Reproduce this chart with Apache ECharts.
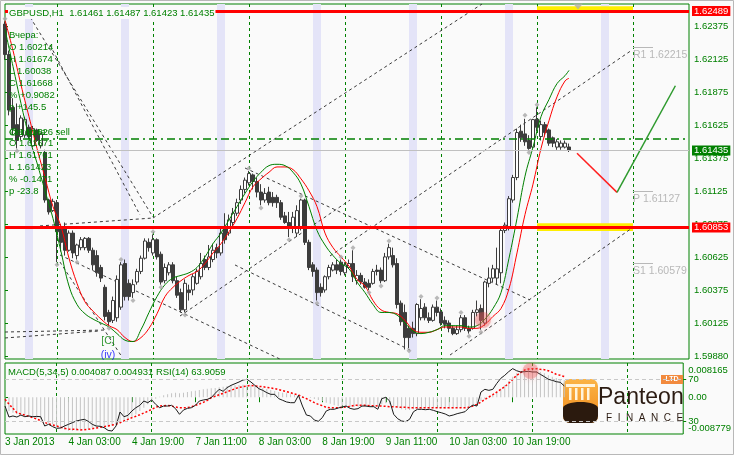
<!DOCTYPE html>
<html><head><meta charset="utf-8">
<script src="https://cdn.jsdelivr.net/npm/echarts@6/dist/echarts.min.js"></script>
<style>html,body{margin:0;padding:0;background:#fafafa;}#c{width:734px;height:455px;}</style>
</head><body><div id="c"></div>
<script>
const FONT = 'Liberation Sans';
const GREEN = '#008000';

// ---------- axes / categories ----------
const barCount = 172;
const tickLabels = ['3 Jan 2013','4 Jan 03:00','4 Jan 19:00','7 Jan 11:00','8 Jan 03:00','8 Jan 19:00','9 Jan 11:00','10 Jan 03:00','10 Jan 19:00'];
const tickBars = [0,16,32,48,64,80,96,112,128];
const daySeparatorBars = [13,37,61,85,109,133,157];
const sessionBands = [[5,7],[29,31],[53,55],[77,79],[101,103],[125,127],[149,151]];
const priceTicks = [1.59880,1.60125,1.60375,1.60625,1.60875,1.61125,1.61375,1.61625,1.61875,1.62125,1.62375];
const macdTicks = [-0.008779, 0, 0.008165];
const macdTickText = ['-0.008779','0.00','0.008165'];
const rsiTicks = [30, 70];

// ---------- candles: [open, high, low, close] ----------
const candles = [
[1.6239,1.6241,1.6212,1.6216],[1.6216,1.6219,1.6170,1.6174],[1.6176,1.6183,1.6155,1.6160],[1.6163,1.6179,1.6145,1.6151],
[1.6154,1.6170,1.6151,1.6168],[1.6155,1.6169,1.6153,1.6167],[1.6161,1.6163,1.6152,1.6154],[1.6147,1.6162,1.6146,1.6160],
[1.6159,1.6160,1.6150,1.6151],[1.6147,1.6157,1.6145,1.6156],[1.6142,1.6144,1.6104,1.6106],[1.6106,1.6107,1.6095,1.6097],
[1.6098,1.6107,1.6097,1.6105],[1.6104,1.6106,1.6059,1.6082],[1.6085,1.6087,1.6067,1.6074],[1.6086,1.6089,1.6064,1.6068],
[1.6068,1.6083,1.6067,1.6081],[1.6081,1.6083,1.6062,1.6066],[1.6064,1.6073,1.6061,1.6072],[1.6070,1.6078,1.6068,1.6076],
[1.6070,1.6078,1.6068,1.6077],[1.6077,1.6078,1.6066,1.6068],[1.6068,1.6070,1.6053,1.6057],[1.6064,1.6068,1.6048,1.6051],
[1.6055,1.6057,1.6044,1.6047],[1.6040,1.6042,1.6015,1.6018],[1.6021,1.6023,1.6011,1.6014],[1.6015,1.6033,1.6013,1.6030],
[1.6017,1.6049,1.6014,1.6046],[1.6025,1.6059,1.6023,1.6057],[1.6058,1.6061,1.6030,1.6033],[1.6043,1.6046,1.6030,1.6033],
[1.6036,1.6046,1.6032,1.6042],[1.6044,1.6054,1.6042,1.6052],[1.6052,1.6064,1.6050,1.6062],[1.6062,1.6077,1.6061,1.6075],
[1.6074,1.6077,1.6067,1.6070],[1.6066,1.6080,1.6064,1.6076],[1.6076,1.6077,1.6061,1.6063],[1.6065,1.6067,1.6042,1.6044],
[1.6045,1.6058,1.6043,1.6055],[1.6051,1.6059,1.6049,1.6057],[1.6057,1.6059,1.6043,1.6045],[1.6045,1.6048,1.6032,1.6034],
[1.6036,1.6039,1.6021,1.6023],[1.6023,1.6046,1.6021,1.6043],[1.6038,1.6042,1.6030,1.6036],[1.6038,1.6050,1.6034,1.6048],
[1.6043,1.6054,1.6042,1.6052],[1.6048,1.6066,1.6046,1.6058],[1.6061,1.6064,1.6053,1.6055],[1.6055,1.6072,1.6053,1.6063],
[1.6061,1.6073,1.6059,1.6068],[1.6070,1.6073,1.6062,1.6066],[1.6066,1.6085,1.6064,1.6081],[1.6085,1.6096,1.6073,1.6076],
[1.6081,1.6095,1.6079,1.6091],[1.6089,1.6100,1.6086,1.6096],[1.6096,1.6107,1.6094,1.6104],[1.6106,1.6117,1.6103,1.6114],
[1.6114,1.6123,1.6111,1.6121],[1.6119,1.6128,1.6117,1.6126],[1.6125,1.6126,1.6114,1.6120],[1.6120,1.6123,1.6108,1.6112],
[1.6112,1.6118,1.6102,1.6106],[1.6106,1.6115,1.6104,1.6111],[1.6112,1.6116,1.6102,1.6104],[1.6108,1.6112,1.6101,1.6104],
[1.6108,1.6110,1.6100,1.6104],[1.6104,1.6106,1.6091,1.6093],[1.6094,1.6097,1.6088,1.6089],[1.6089,1.6097,1.6078,1.6086],
[1.6086,1.6097,1.6081,1.6093],[1.6081,1.6102,1.6078,1.6098],[1.6086,1.6107,1.6083,1.6106],[1.6106,1.6107,1.6072,1.6074],
[1.6074,1.6076,1.6053,1.6055],[1.6057,1.6059,1.6048,1.6052],[1.6053,1.6055,1.6030,1.6036],[1.6040,1.6043,1.6033,1.6036],
[1.6038,1.6049,1.6036,1.6048],[1.6048,1.6057,1.6046,1.6055],[1.6053,1.6059,1.6052,1.6057],[1.6057,1.6061,1.6050,1.6053],
[1.6059,1.6061,1.6049,1.6052],[1.6051,1.6059,1.6049,1.6057],[1.6055,1.6061,1.6054,1.6058],[1.6058,1.6068,1.6044,1.6048],
[1.6045,1.6053,1.6042,1.6049],[1.6049,1.6051,1.6042,1.6044],[1.6044,1.6047,1.6039,1.6040],[1.6043,1.6046,1.6038,1.6040],
[1.6043,1.6054,1.6042,1.6052],[1.6053,1.6057,1.6049,1.6052],[1.6053,1.6055,1.6043,1.6045],[1.6045,1.6066,1.6044,1.6063],
[1.6063,1.6073,1.6061,1.6070],[1.6064,1.6070,1.6055,1.6057],[1.6058,1.6062,1.6024,1.6027],[1.6028,1.6030,1.6011,1.6014],
[1.6021,1.6027,1.5993,1.6002],[1.6009,1.6011,1.5994,1.6002],[1.6009,1.6014,1.6002,1.6005],[1.6005,1.6028,1.6003,1.6027],
[1.6017,1.6031,1.6015,1.6024],[1.6025,1.6028,1.6015,1.6017],[1.6017,1.6021,1.6013,1.6015],[1.6015,1.6027,1.6014,1.6025],
[1.6025,1.6030,1.6018,1.6021],[1.60214,1.6024,1.6011,1.6013],[1.6015,1.6018,1.6009,1.6012],[1.6013,1.6015,1.6006,1.6009],
[1.6009,1.6011,1.60038,1.6005],[1.6005,1.6011,1.6004,1.6008],[1.6008,1.6019,1.6006,1.6017],[1.6017,1.6019,1.6007,1.6009],
[1.6009,1.6011,1.6005,1.6007],[1.6009,1.6023,1.6008,1.6021],[1.6021,1.6030,1.6018,1.6023],[1.6024,1.6027,1.6008,1.6015],
[1.6013,1.6045,1.6011,1.6044],[1.6043,1.6055,1.6040,1.6047],[1.6047,1.6057,1.6044,1.6054],[1.6047,1.6070,1.6042,1.6054],
[1.6051,1.6085,1.6043,1.6083],[1.6083,1.6089,1.6081,1.6087],[1.6086,1.6109,1.6083,1.6107],[1.6106,1.6125,1.6104,1.6123],
[1.6123,1.6160,1.6121,1.6157],[1.6158,1.6163,1.6150,1.6153],[1.6156,1.61674,1.6147,1.6150],[1.6151,1.6155,1.6144,1.6145],
[1.6146,1.61674,1.6145,1.61668],[1.61671,1.61761,1.6158,1.6161],[1.6154,1.6166,1.6151,1.6163],[1.6163,1.6165,1.6154,1.6157],
[1.6159,1.6160,1.6147,1.6149],[1.6153,1.6154,1.6146,1.6149],[1.6146,1.6152,1.6144,1.6150],[1.6146,1.6151,1.6144,1.6149],
[1.6146,1.6151,1.6145,1.6149],[1.61461,1.61487,1.61423,1.61435]
];

// ---------- smoothed lines (read every 2nd bar, last bar 141) ----------
const maGreen = [1.6235,1.6207,1.6179,1.6154,1.6134,1.6113,1.6092,1.6067,1.6041,1.6027,1.6020,1.6016,1.6013,1.6010,1.6005,1.6000,1.5999,1.6008,1.6021,1.6033,1.6042,1.6047,1.6049,1.6051,1.6055,1.6063,1.6073,1.6081,1.6091,1.6101,1.6111,1.6120,1.6127,1.6132,1.6133,1.6132,1.6127,1.6118,1.6101,1.6083,1.6072,1.6064,1.6058,1.6054,1.6044,1.6036,1.6027,1.6021,1.6021,1.6019,1.6013,1.6007,1.6005,1.6006,1.6008,1.6011,1.6011,1.6011,1.6010,1.6011,1.6016,1.6024,1.6036,1.6062,1.6092,1.6124,1.6146,1.6169,1.6182,1.6194,1.6200,1.6204];
const maRed = [1.6242,1.6219,1.6193,1.6169,1.6145,1.6123,1.6101,1.6086,1.6062,1.6043,1.6029,1.6022,1.6016,1.6011,1.6008,1.6002,1.5999,1.6002,1.6009,1.6020,1.6033,1.6040,1.6045,1.6049,1.6052,1.6058,1.6066,1.6073,1.6082,1.6092,1.6104,1.6116,1.6122,1.6127,1.6131,1.6131,1.6129,1.6122,1.6113,1.6101,1.6081,1.6070,1.6063,1.6056,1.6046,1.6041,1.6030,1.6023,1.6021,1.6020,1.6015,1.6008,1.6006,1.6006,1.6008,1.6010,1.6010,1.6010,1.6009,1.6009,1.6012,1.6018,1.6024,1.6039,1.6066,1.6095,1.6118,1.6145,1.6166,1.6184,1.6196,1.6198];
const maBars = maGreen.map((_, k) => k < 71 ? 2 * k : 141);

// ---------- levels ----------
const redLevels = [1.62489, 1.60853];
const yellowZones = [[1.62525, 1.62480], [1.60884, 1.60825]];
const zoneBars = [133, 157];
const sellLevel = 1.61526;
const bidPrice = 1.61435;
const pivotNames = ['R1', 'P', 'S1'];
const pivotValues = [1.62215, 1.61127, 1.60579];
const pivotBars = [157, 162];
const forecastDown = [[143, 1.61413], [153, 1.61118]];
const forecastUp = [[153, 1.61118], [167.6, 1.61924]];
const topMarker = [[143.25, 1.62523]];

// ---------- trend lines [bar1, price1, bar2, price2] ----------
const trendLines = [
 [5.5,1.62481,37,1.60931],[11.25,1.62232,33.75,1.60947],[8.75,1.60864,37,1.60924],
 [37,1.60924,119.25,1.62542],[43.75,1.60183,86.25,1.61060],[81.25,1.60637,156.75,1.62194],
 [111.25,1.59888,156.75,1.60848],[13.75,1.60644,69.25,1.59850],[60,1.61302,131.25,1.60304],
 [57.5,1.60569,101.25,1.59926],[0,1.60062,25,1.60077],[0,1.60017,23.75,1.60070],[13.75,1.60591,29.25,1.59873]
];
const fractals = [[0,1.6243],[3,1.6143],[13,1.6057],[18,1.6059],[26,1.6009],[29,1.6061],[32,1.6030],[37,1.6082],[39,1.6040],[45,1.6019],[61,1.6130],[64,1.6100],[71,1.6076],[74,1.6109],[78,1.6028],[84,1.6063],[87,1.6070],[91,1.6036],[94,1.6041],[96,1.6075],[101,1.5992],[104,1.6033],[108,1.6032],[114,1.6021],[116,1.6003],[119,1.6006],[130,1.6170],[131,1.6142],[133,1.6178]];
const waveLabels = [[25.75,1.59994,'[C]',GREEN],[25.75,1.59888,'(iv)','#0000ff']];
const highlightMain = [[119.5,1.60153]];
const highlightMacd = [[132.5,0.00625]];

// ---------- oscillators ----------
const macdMain = [-0.00289,-0.00329,-0.00369,-0.00409,-0.00433,-0.00449,-0.00464,-0.00488,-0.00504,-0.00528,-0.00568,-0.00608,-0.00647,-0.00703,-0.00743,-0.00775,-0.00798,-0.00806,-0.00798,-0.00783,-0.00767,-0.00751,-0.00735,-0.00719,-0.00703,-0.00703,-0.00703,-0.00687,-0.00647,-0.00608,-0.00568,-0.00528,-0.00464,-0.00409,-0.00329,-0.00250,-0.00170,-0.00091,-0.00035,0.00013,0.00045,0.00068,0.00092,0.00108,0.00092,0.00108,0.00124,0.00140,0.00156,0.00172,0.00188,0.00204,0.00212,0.00220,0.00235,0.00251,0.00267,0.00283,0.00283,0.00291,0.00299,0.00299,0.00283,0.00267,0.00243,0.00220,0.00196,0.00172,0.00148,0.00124,0.00108,0.00092,0.00068,0.00053,0.00045,0.00029,0.00005,-0.00019,-0.00043,-0.00067,-0.00091,-0.00130,-0.00154,-0.00194,-0.00210,-0.00226,-0.00234,-0.00234,-0.00234,-0.00226,-0.00226,-0.00226,-0.00218,-0.00218,-0.00210,-0.00170,-0.00146,-0.00170,-0.00210,-0.00250,-0.00289,-0.00305,-0.00305,-0.00289,-0.00274,-0.00274,-0.00266,-0.00266,-0.00266,-0.00266,-0.00266,-0.00274,-0.00274,-0.00274,-0.00266,-0.00258,-0.00250,-0.00226,-0.00194,-0.00170,-0.00091,-0.00051,-0.00011,0.00045,0.00124,0.00204,0.00283,0.00387,0.00490,0.00569,0.00625,0.00649,0.00665,0.00649,0.00625,0.00601,0.00569,0.00522,0.00490,0.00458,0.00426,0.004087];
const macdSignal = [-0.00051,-0.00162,-0.00266,-0.00369,-0.00401,-0.00425,-0.00456,-0.00488,-0.00520,-0.00560,-0.00600,-0.00639,-0.00663,-0.00687,-0.00719,-0.00743,-0.00759,-0.00767,-0.00767,-0.00783,-0.00775,-0.00767,-0.00751,-0.00735,-0.00719,-0.00703,-0.00687,-0.00663,-0.00647,-0.00608,-0.00568,-0.00528,-0.00488,-0.00456,-0.00417,-0.00377,-0.00337,-0.00289,-0.00242,-0.00210,-0.00202,-0.00194,-0.00210,-0.00234,-0.00250,-0.00250,-0.00250,-0.00226,-0.00194,-0.00162,-0.00122,-0.00075,-0.00011,0.00021,0.00060,0.00092,0.00132,0.00164,0.00204,0.00235,0.00251,0.00267,0.00283,0.00267,0.00259,0.00251,0.00235,0.00220,0.00204,0.00180,0.00156,0.00132,0.00108,0.00076,0.00053,0.00005,-0.00035,-0.00083,-0.00130,-0.00170,-0.00202,-0.00242,-0.00250,-0.00250,-0.00250,-0.00242,-0.00234,-0.00218,-0.00194,-0.00194,-0.00194,-0.00194,-0.00202,-0.00202,-0.00210,-0.00210,-0.00218,-0.00226,-0.00226,-0.00234,-0.00242,-0.00242,-0.00250,-0.00250,-0.00250,-0.00250,-0.00250,-0.00250,-0.00250,-0.00250,-0.00250,-0.00250,-0.00250,-0.00250,-0.00250,-0.00250,-0.00250,-0.00242,-0.00210,-0.00170,-0.00115,-0.00051,0.00005,0.00060,0.00124,0.00188,0.00251,0.00331,0.00426,0.00522,0.00585,0.00649,0.00673,0.00681,0.00681,0.00665,0.00657,0.00633,0.00593,0.00546,0.00522,0.004931];
const rsi = [44.6,34.1,35.1,34.1,36.0,34.4,35.1,34.4,34.7,34.4,25.5,27.1,24.9,23.3,23.6,25.5,27.1,28.7,30.3,31.2,31.9,30.0,27.1,25.5,25.2,23.9,21.3,20.7,25.5,38.9,34.4,35.7,39.9,43.0,45.3,49.4,47.8,50.4,46.2,43.0,44.6,44.6,45.3,42.1,36.7,40.8,42.4,43.0,45.3,49.4,50.4,51.0,52.6,56.8,60.6,58.7,62.2,64.4,66.0,67.6,69.5,70.2,67.6,64.4,61.2,59.6,57.4,55.8,55.8,51.7,50.1,48.5,47.8,47.8,54.9,44.6,36.0,35.1,31.2,30.0,33.5,39.9,41.5,41.5,42.7,43.7,44.6,42.4,41.5,42.1,44.6,44.6,44.0,44.0,41.5,51.7,52.9,49.4,36.7,32.5,30.3,29.7,31.9,39.2,41.5,41.5,41.1,41.5,40.5,39.2,38.2,37.0,35.1,36.0,37.3,38.2,39.2,43.0,45.6,44.6,58.0,60.6,59.6,60.6,66.3,71.1,74.0,77.5,80.4,78.4,77.2,77.5,77.8,77.2,77.2,74.9,72.7,70.2,69.2,67.9,67.3,63.9059];

// ---------- texts ----------
const symbolName = 'GBPUSD,H1';
const prevDayInfo = ['Вчера:','O 1.60214','H 1.61674','L 1.60038','C 1.61668','% +0.9082','p +145.5'];
const todayHeader = ['Сегодня:','@1.61526 sell'];
const todayInfo = ['O 1.61671','H 1.61761','L 1.61423','% -0.1471','p -23.8'];

// ---------- build ----------
const cats = [];
for (let i = 0; i < barCount; i++) cats.push('');
tickBars.forEach((b, k) => { cats[b] = tickLabels[k]; });
const tickSet = new Set(tickBars);
const daySet = new Set(daySeparatorBars);
const last = candles[candles.length - 1];
const titleText = symbolName + '  ' + last.map(v => v.toFixed(5)).join(' ');
const oscTitle = 'MACD(5,34,5) ' + macdMain[macdMain.length-1].toFixed(6) + ' ' + macdSignal[macdSignal.length-1].toFixed(6) + ' RSI(14) ' + rsi[rsi.length-1].toFixed(4);

const fnt = (s) => s + 'px "' + FONT + '"';
const sepLine = { show: true, interval: (i) => daySet.has(i), lineStyle: { color: GREEN, type: [3, 3], width: 1 } };

const markLineData = [];
redLevels.forEach(v => markLineData.push({ yAxis: v, name: v.toFixed(5),
  lineStyle: { color: '#ff0000', width: 3, type: 'solid' },
  label: { show: true, position: 'end', distance: 3, formatter: '{b}', color: '#ffffff', backgroundColor: '#ff0000', padding: [0, 2, 0, 2], fontSize: 9.5, lineHeight: 10, fontFamily: FONT } }));
markLineData.push({ yAxis: sellLevel, name: '', lineStyle: { color: GREEN, width: 1.5, type: [8, 4, 2, 4] }, label: { show: false } });
markLineData.push({ yAxis: bidPrice, name: bidPrice.toFixed(5), lineStyle: { color: '#c0c0c0', width: 1, type: 'solid' },
  label: { show: true, position: 'end', distance: 3, formatter: '{b}', color: '#ffffff', backgroundColor: GREEN, padding: [0, 2, 0, 2], fontSize: 9.5, lineHeight: 10, fontFamily: FONT } });
pivotValues.forEach((v, k) => markLineData.push([
  { coord: [pivotBars[0], v], name: pivotNames[k] + ' ' + v.toFixed(5), lineStyle: { color: '#b8b8b8', width: 1, type: 'solid' },
    label: { show: true, position: 'insideStartBottom', distance: [0, 2], formatter: '{b}', color: '#b8b8b8', fontSize: 10.5, fontFamily: FONT } },
  { coord: [pivotBars[1], v] }
]));

const markAreaData = [];
sessionBands.forEach(b => markAreaData.push([{ xAxis: b[0], itemStyle: { color: '#e4e4f8' } }, { xAxis: b[1] }]));
yellowZones.forEach(z => markAreaData.push([{ xAxis: zoneBars[0], yAxis: z[0], itemStyle: { color: '#ffee00' } }, { xAxis: zoneBars[1], yAxis: z[1] }]));

const option = {
  animation: false,
  backgroundColor: '#fafafa',
  textStyle: { fontFamily: FONT },
  grid: [
    { left: 5, top: 4, width: 684, height: 355, show: true, borderColor: GREEN, borderWidth: 1, backgroundColor: '#fafafa' },
    { left: 5, top: 363, width: 684, height: 71, show: true, borderColor: GREEN, borderWidth: 1, backgroundColor: '#fafafa' }
  ],
  xAxis: [
    { type: 'category', gridIndex: 0, data: cats, boundaryGap: false, axisLine: { show: false }, axisTick: { show: false }, axisLabel: { show: false }, splitLine: sepLine },
    { type: 'value', gridIndex: 0, min: 0, max: barCount - 1, show: false },
    { type: 'category', gridIndex: 1, data: cats, boundaryGap: false, axisLine: { show: false },
      axisTick: { show: true, interval: (i) => tickSet.has(i), length: 5, lineStyle: { color: GREEN } },
      axisLabel: { interval: 0, color: GREEN, fontSize: 10, fontFamily: FONT, align: 'left', margin: 3 },
      splitLine: sepLine },
    { type: 'value', gridIndex: 1, min: 0, max: barCount - 1, show: false }
  ],
  yAxis: [
    { type: 'value', gridIndex: 0, position: 'right', min: 1.59858, max: 1.62542, scale: true,
      axisLine: { show: false }, splitLine: { show: false },
      axisTick: { show: true, customValues: priceTicks, length: 3, lineStyle: { color: GREEN } },
      axisLabel: { customValues: priceTicks, formatter: (v) => v.toFixed(5), color: GREEN, fontSize: 9.5, fontFamily: FONT, margin: 5 } },
    { type: 'value', gridIndex: 1, position: 'right', min: -0.008779, max: 0.008165,
      axisLine: { show: false }, splitLine: { show: false },
      axisTick: { show: true, customValues: [0], length: 3, lineStyle: { color: GREEN } },
      axisLabel: { customValues: macdTicks, color: GREEN, fontSize: 9.5, fontFamily: FONT, margin: 5,
        formatter: function (v) {
          let k = 0; for (let i = 0; i < macdTicks.length; i++) if (Math.abs(macdTicks[i] - v) < 1e-9) k = i;
          const s = macdTickText[k];
          if (k === 2) return '{t|' + s + '}';
          if (k === 0) return '{b|' + s + '}';
          return s;
        },
        rich: { t: { padding: [14, 0, 0, 0], color: GREEN, fontSize: 9.5, fontFamily: FONT }, b: { padding: [0, 0, 12, 0], color: GREEN, fontSize: 9.5, fontFamily: FONT } } } },
    { type: 'value', gridIndex: 1, position: 'right', min: 17.85, max: 85.79,
      axisLine: { show: false }, splitLine: { show: false },
      axisTick: { show: true, customValues: rsiTicks, length: 3, lineStyle: { color: GREEN } },
      axisLabel: { customValues: rsiTicks, formatter: (v) => String(Math.round(v)), color: GREEN, fontSize: 9.5, fontFamily: FONT, margin: 5 } }
  ],
  series: [
    { type: 'candlestick', xAxisIndex: 0, yAxisIndex: 0, barWidth: 3, z: 3,
      data: candles.map(c => [c[0], c[3], c[2], c[1]]),
      itemStyle: { color: '#ffffff', color0: '#3c3c3c', borderColor: '#3c3c3c', borderColor0: '#3c3c3c', borderWidth: 1 },
      markArea: { silent: true, data: markAreaData },
      markLine: { silent: true, precision: 6, symbol: ['none', 'none'], data: markLineData } },
    { type: 'lines', coordinateSystem: 'cartesian2d', xAxisIndex: 1, yAxisIndex: 0, silent: true, z: 2,
      lineStyle: { color: '#3a3a3a', width: 1, type: [3, 3], opacity: 1, curveness: 0 },
      data: trendLines.map(t => ({ coords: [[t[0], t[1]], [t[2], t[3]]] })) },
    { type: 'line', xAxisIndex: 1, yAxisIndex: 0, data: maBars.map((b, k) => [b, maRed[k]]), smooth: 0.4, showSymbol: false, lineStyle: { color: '#ff0000', width: 1 }, z: 4 },
    { type: 'line', xAxisIndex: 1, yAxisIndex: 0, data: maBars.map((b, k) => [b, maGreen[k]]), smooth: 0.4, showSymbol: false, lineStyle: { color: '#008000', width: 1 }, z: 4 },
    { type: 'line', xAxisIndex: 1, yAxisIndex: 0, data: forecastDown, showSymbol: false, lineStyle: { color: '#ff2020', width: 1.5 }, z: 4 },
    { type: 'line', xAxisIndex: 1, yAxisIndex: 0, data: forecastUp, showSymbol: false, lineStyle: { color: '#2e9a2e', width: 1.5 }, z: 4 },
    { type: 'scatter', xAxisIndex: 1, yAxisIndex: 0, data: fractals, symbol: 'diamond', symbolSize: 5, itemStyle: { color: '#a8a8a8' }, z: 5 },
    { type: 'scatter', xAxisIndex: 1, yAxisIndex: 0, data: topMarker, symbol: 'triangle', symbolRotate: 180, symbolSize: [10, 6], itemStyle: { color: '#b0b0a8' }, z: 5 },
    { type: 'scatter', xAxisIndex: 1, yAxisIndex: 0, data: highlightMain, symbolSize: 16, itemStyle: { color: 'rgba(235,90,90,0.45)', shadowBlur: 6, shadowColor: 'rgba(235,90,90,0.6)' }, z: 6 },
    { type: 'scatter', xAxisIndex: 1, yAxisIndex: 0, symbolSize: 1, itemStyle: { color: 'rgba(0,0,0,0)' }, z: 6,
      data: waveLabels.map(w => ({ value: [w[0], w[1]], label: { show: true, position: 'inside', formatter: w[2], color: w[3], fontSize: 10.5, fontFamily: FONT } })) },
    { type: 'bar', xAxisIndex: 2, yAxisIndex: 1, data: macdMain, barWidth: 1, itemStyle: { color: '#c4c4c4' }, z: 2 },
    { type: 'line', xAxisIndex: 2, yAxisIndex: 1, data: macdSignal, showSymbol: false, lineStyle: { color: '#ff0000', width: 1.5, type: [2, 2] }, z: 3 },
    { type: 'line', xAxisIndex: 2, yAxisIndex: 2, data: rsi, showSymbol: false, lineStyle: { color: '#1a1a1a', width: 1 }, z: 4,
      markLine: { silent: true, symbol: ['none', 'none'], label: { show: false }, lineStyle: { color: '#c8c8c8', type: [4, 3], width: 1 }, data: rsiTicks.map(v => ({ yAxis: v })) } },
    { type: 'scatter', xAxisIndex: 3, yAxisIndex: 1, data: highlightMacd, symbolSize: 16, itemStyle: { color: 'rgba(235,90,90,0.45)', shadowBlur: 6, shadowColor: 'rgba(235,90,90,0.6)' }, z: 6 }
  ],
  graphic: [
    { type: 'rect', silent: true, z: 100, shape: { x: 0.5, y: 0.5, width: 733, height: 454 }, style: { fill: 'none', stroke: '#b8b8b8', lineWidth: 1 } },
    { type: 'text', silent: true, z: 100, x: 8, y: 13, style: { text: titleText, fill: GREEN, font: fnt(9.5), verticalAlign: 'middle', backgroundColor: '#fafafa', padding: [1, 1] } },
    ...prevDayInfo.map((t, k) => ({ type: 'text', silent: true, z: 100, x: 9, y: 35 + 12 * k, style: { text: t, fill: GREEN, font: fnt(9.5), verticalAlign: 'middle' } })),
    ...todayHeader.map((t) => ({ type: 'text', silent: true, z: 100, x: 9, y: 132, style: { text: t, fill: GREEN, font: fnt(9.5), verticalAlign: 'middle' } })),
    ...todayInfo.map((t, k) => ({ type: 'text', silent: true, z: 100, x: 9, y: 143 + 12 * k, style: { text: t, fill: GREEN, font: fnt(9.5), verticalAlign: 'middle' } })),
    { type: 'text', silent: true, z: 100, x: 8, y: 372, style: { text: oscTitle, fill: GREEN, font: fnt(9.5), verticalAlign: 'middle' } },
    // logo
    { type: 'group', silent: true, z: 100, children: [
      { type: 'rect', shape: { x: 563, y: 379, width: 35, height: 44, r: 7 }, style: { fill: new echarts.graphic.LinearGradient(0, 0, 0, 1, [{ offset: 0, color: '#fbb447' }, { offset: 1, color: '#f08a1c' }]) } },
      { type: 'rect', shape: { x: 566, y: 384, width: 29, height: 3 }, style: { fill: '#fff4dc' } },
      { type: 'rect', shape: { x: 569, y: 388, width: 2.5, height: 12 }, style: { fill: '#fff4dc' } },
      { type: 'rect', shape: { x: 575, y: 388, width: 2.5, height: 12 }, style: { fill: '#fff4dc' } },
      { type: 'rect', shape: { x: 581, y: 388, width: 2.5, height: 12 }, style: { fill: '#fff4dc' } },
      { type: 'rect', shape: { x: 587, y: 388, width: 2.5, height: 12 }, style: { fill: '#fff4dc' } },
      { type: 'ellipse', shape: { cx: 580.5, cy: 408, rx: 17.5, ry: 6 }, style: { fill: '#2b1a0e' } },
      { type: 'rect', shape: { x: 563, y: 408, width: 35, height: 15, r: [0, 0, 7, 7] }, style: { fill: '#2b1a0e' } },
      { type: 'rect', shape: { x: 661, y: 375, width: 22, height: 9 }, style: { fill: '#f28a3e' } },
      { type: 'text', x: 672, y: 379.5, style: { text: 'LTD', fill: '#ffffff', font: 'bold 7px "' + FONT + '"', align: 'center', verticalAlign: 'middle' } },
      { type: 'text', x: 598, y: 398, style: { text: 'Panteon', fill: '#2b1b12', font: '23px "' + FONT + '"', verticalAlign: 'middle' } },
      { type: 'text', x: 606, y: 418, style: { text: 'F  I  N  A  N  C  E', fill: '#2b1b12', font: '10px "' + FONT + '"', verticalAlign: 'middle' } }
    ] }
  ]
};
const chart = echarts.init(document.getElementById('c'));
chart.setOption(option);
</script></body></html>
